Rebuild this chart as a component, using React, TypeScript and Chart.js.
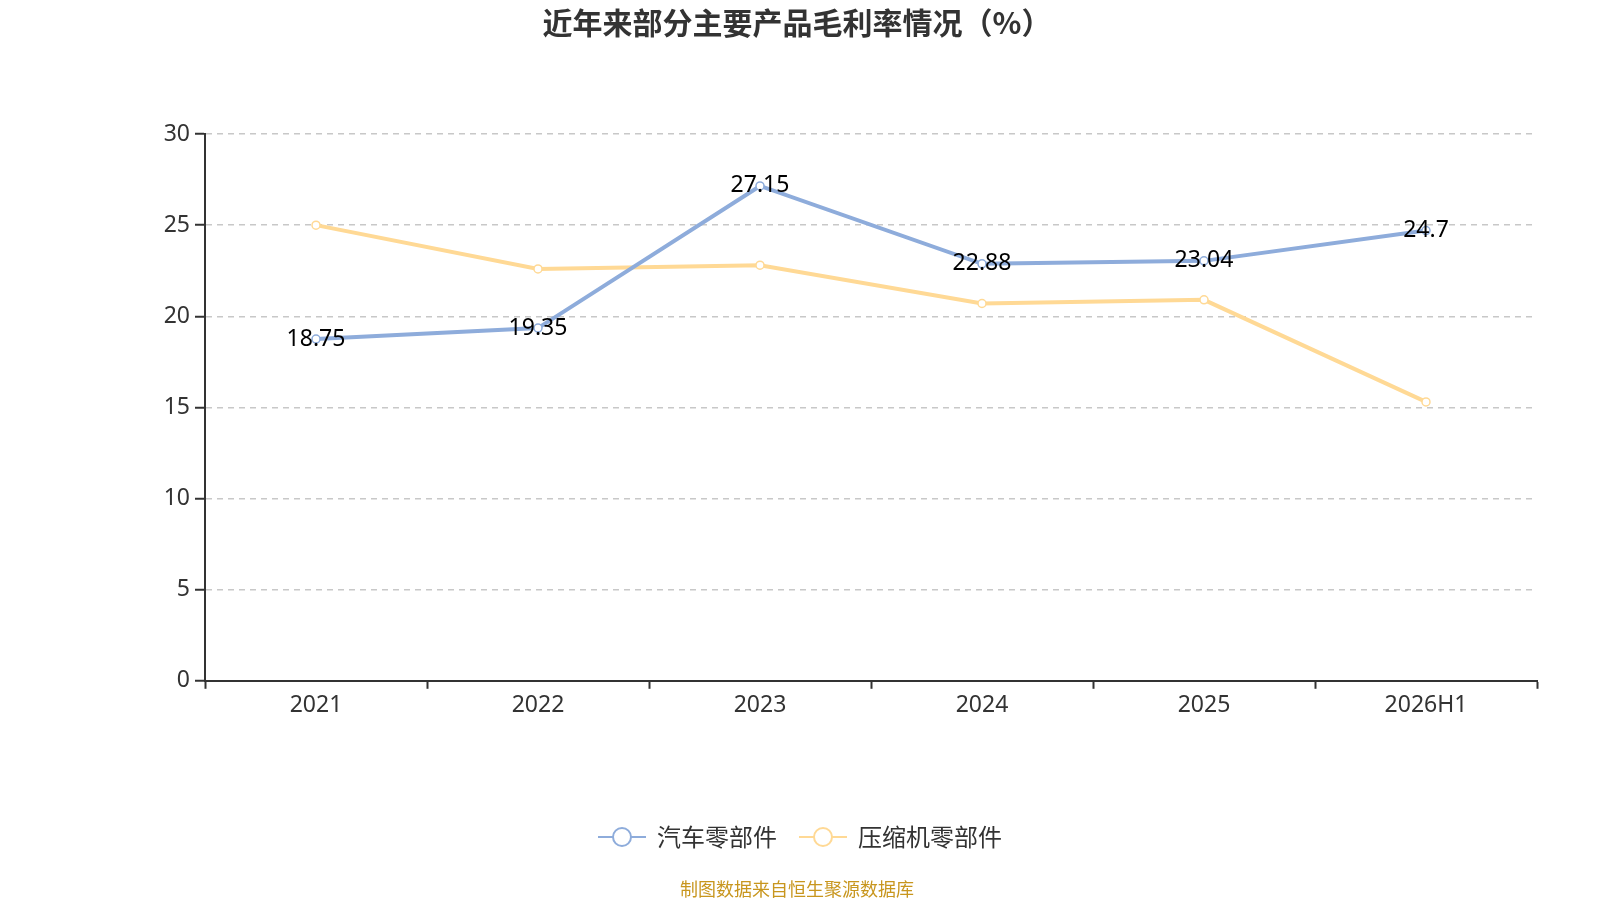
import { useEffect, useRef } from "react"
import { Chart, registerables } from "chart.js"

Chart.register(...registerables)

const categories = ["2021", "2022", "2023", "2024", "2025", "2026H1"]
const autoParts = [18.75, 19.35, 27.15, 22.88, 23.04, 24.7]
const compressorParts = [25.0, 22.6, 22.8, 20.7, 20.9, 15.3]
const seriesNames = ["汽车零部件", "压缩机零部件"]
const yTicks = [0, 5, 10, 15, 20, 25, 30]

const BLUE = "#8eacdb"
const YELLOW = "#ffd995"
const FONT = '"Noto Sans", "Noto Sans CJK SC", sans-serif'
const CJK = '"Noto Sans CJK SC", "Noto Sans", sans-serif'

// value labels on the first series
const valueLabels = {
  id: "valueLabels",
  afterDatasetsDraw(chart: Chart) {
    const ctx = chart.ctx
    const meta = chart.getDatasetMeta(0)
    ctx.save()
    ctx.font = `23px ${FONT}`
    ctx.fillStyle = "#000"
    ctx.textAlign = "center"
    ctx.textBaseline = "middle"
    meta.data.forEach((pt: any, i: number) => {
      ctx.fillText(String(autoParts[i]), pt.x, pt.y)
    })
    ctx.restore()
  },
}

// bottom legend with line + hollow circle icon
const lineLegend = {
  id: "lineLegend",
  afterDraw(chart: Chart) {
    const ctx = chart.ctx
    const y = 837
    const iconW = 48
    const gap = 11
    const spacing = 22
    ctx.save()
    ctx.font = `24px ${CJK}`
    const items = chart.data.datasets.map((ds: any) => ({
      label: ds.label as string,
      color: ds.borderColor as string,
      w: ctx.measureText(ds.label).width,
    }))
    const total =
      items.reduce((s, it) => s + iconW + gap + it.w, 0) + spacing * (items.length - 1)
    let x = chart.width / 2 - total / 2
    items.forEach((it) => {
      ctx.strokeStyle = it.color
      ctx.lineWidth = 2
      ctx.beginPath()
      ctx.moveTo(x, y)
      ctx.lineTo(x + iconW, y)
      ctx.stroke()
      ctx.beginPath()
      ctx.arc(x + iconW / 2, y, 9, 0, Math.PI * 2)
      ctx.fillStyle = "#fff"
      ctx.fill()
      ctx.stroke()
      ctx.fillStyle = "#333"
      ctx.textAlign = "left"
      ctx.textBaseline = "middle"
      ctx.fillText(it.label, x + iconW + gap, y)
      x += iconW + gap + it.w + spacing
    })
    ctx.restore()
  },
}

export default function App() {
  const chartRef = useRef<HTMLCanvasElement>(null)
  const chartInstance = useRef<Chart | null>(null)

  useEffect(() => {
    document.body.style.margin = "0"
    if (!chartRef.current) return
    if (chartInstance.current) chartInstance.current.destroy()
    const ctx = chartRef.current.getContext("2d")
    if (!ctx) return

    chartInstance.current = new Chart(ctx, {
      type: "line",
      data: {
        labels: categories,
        datasets: [
          {
            label: seriesNames[0],
            data: autoParts,
            borderColor: BLUE,
            backgroundColor: "#fff",
            borderWidth: 4,
            pointRadius: 4,
            pointBorderWidth: 1.5,
            pointBackgroundColor: "#fff",
            pointBorderColor: BLUE,
            tension: 0,
          },
          {
            label: seriesNames[1],
            data: compressorParts,
            borderColor: YELLOW,
            backgroundColor: "#fff",
            borderWidth: 4,
            pointRadius: 4,
            pointBorderWidth: 1.5,
            pointBackgroundColor: "#fff",
            pointBorderColor: YELLOW,
            tension: 0,
          },
        ],
      },
      options: {
        responsive: false,
        animation: false,
        layout: { padding: { left: 57, right: 63, top: 0, bottom: 0 } },
        plugins: {
          legend: { display: false },
          tooltip: { enabled: false },
          title: {
            display: true,
            text: "近年来部分主要产品毛利率情况（%）",
            color: "#333",
            font: { family: CJK, size: 30, weight: "bold" },
            padding: { top: 5, bottom: 93 },
          },
          subtitle: {
            display: true,
            position: "bottom",
            text: "制图数据来自恒生聚源数据库",
            color: "#c8961e",
            font: { family: CJK, size: 18, weight: "normal" },
            padding: { top: 156, bottom: 0 },
          },
        },
        scales: {
          x: {
            offset: true,
            grid: {
              offset: true,
              drawOnChartArea: false,
              tickLength: 8,
              tickColor: "#333",
              tickWidth: 2,
            },
            border: { color: "#333", width: 2 },
            ticks: { color: "#333", font: { family: FONT, size: 23 }, padding: 3 },
          },
          y: {
            min: 0,
            max: 30,
            afterFit(scale: any) {
              scale.width = 148
            },
            afterBuildTicks(scale: any) {
              scale.ticks = yTicks.map((v) => ({ value: v }))
            },
            grid: {
              color: "#c8c8c8",
              lineWidth: 1.5,
              tickLength: 10,
              tickColor: "#333",
              tickWidth: 2,
              tickBorderDash: [],
            },
            border: { color: "#333", width: 2, dash: [6, 5] },
            ticks: { color: "#333", font: { family: FONT, size: 23 }, padding: 5 },
          },
        },
      },
      plugins: [valueLabels, lineLegend],
    })

    return () => {
      if (chartInstance.current) {
        chartInstance.current.destroy()
        chartInstance.current = null
      }
    }
  }, [])

  return <canvas ref={chartRef} width={1600} height={900} style={{ display: "block" }} />
}
